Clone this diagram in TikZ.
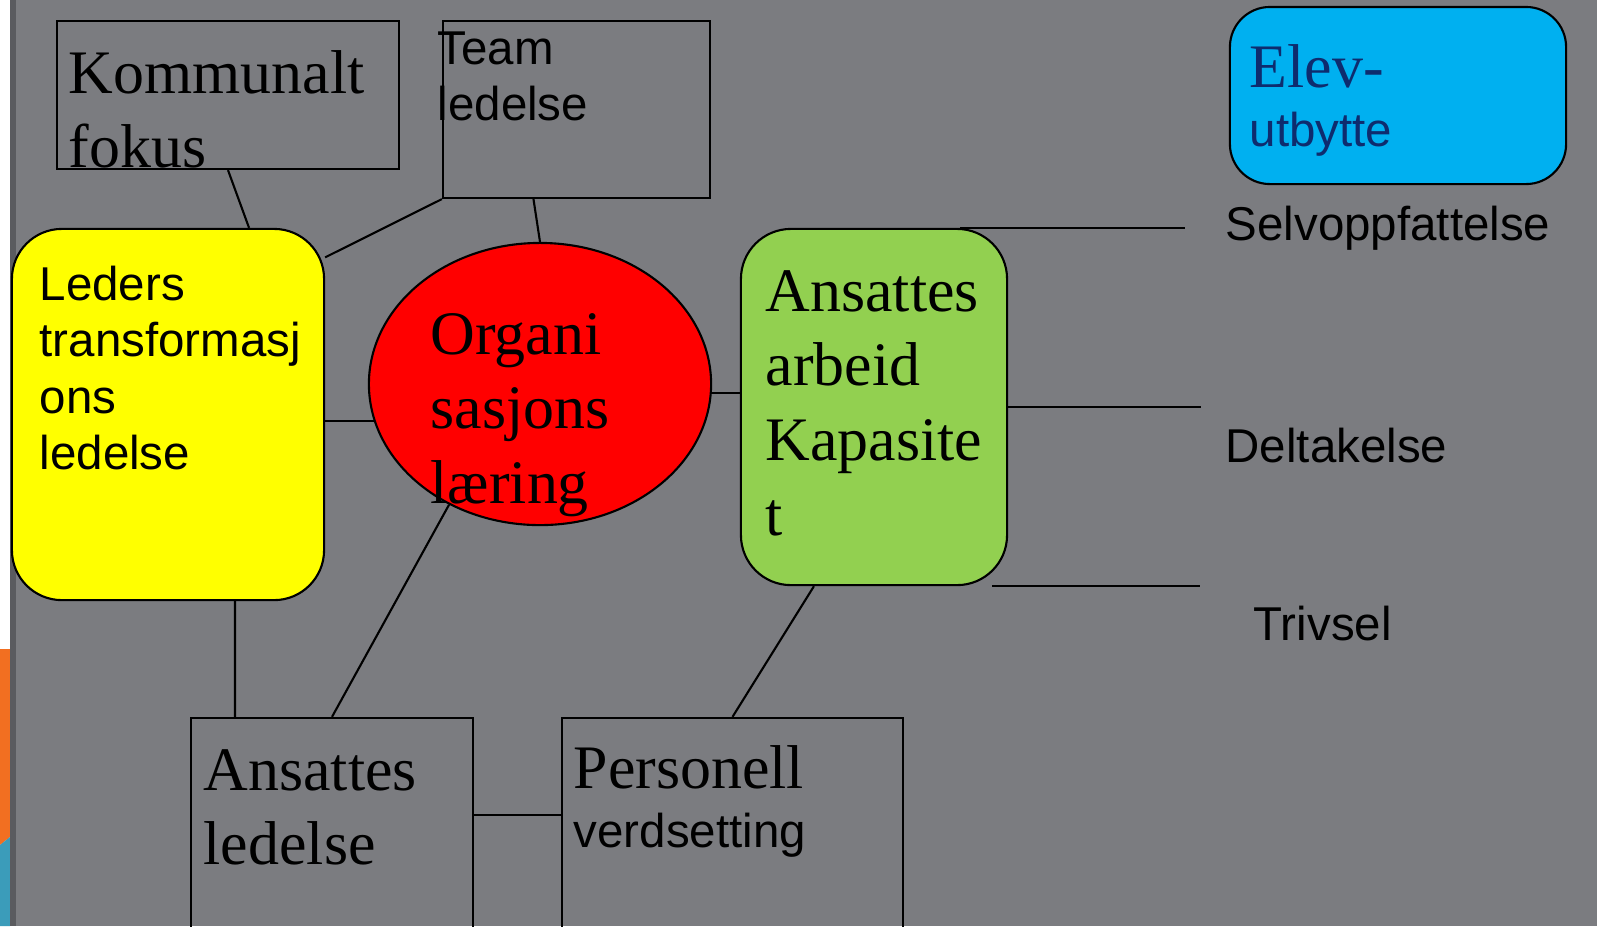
\documentclass[tikz,border=0pt]{standalone}
\usepackage{fontspec}
\setmainfont{Liberation Serif}
\setsansfont{Liberation Sans}
\usetikzlibrary{shapes.geometric}
\definecolor{bggray}{RGB}{123,124,128}
\definecolor{darkstrip}{RGB}{90,91,95}
\definecolor{sideorange}{HTML}{F26F21}
\definecolor{sideteal}{HTML}{3B9CBA}
\definecolor{boxyellow}{HTML}{FFFF00}
\definecolor{boxred}{HTML}{FF0000}
\definecolor{boxgreen}{HTML}{92D050}
\definecolor{boxblue}{HTML}{00B0F0}
\definecolor{navytext}{HTML}{0E2C6E}
\begin{document}
\begin{tikzpicture}[x=0.01cm,y=-0.01cm]
        \tikzstyle{every node}=[inner sep=0pt, text=black]
        \tikzstyle{box}=[rectangle, draw=black, line width=0.6pt]
        \tikzstyle{roundbox}=[box, rounded corners=0.5cm]
        \tikzstyle{bigtext}=[anchor=base west, font=\fontsize{17.6}{21.3}\selectfont]
        \tikzstyle{sanstext}=[anchor=base west, font=\sffamily\fontsize{13.5}{16.1}\selectfont]
        \tikzstyle{edge}=[black, line width=0.6pt]

        \useasboundingbox (0,0) rectangle (1597,926);
        \clip (0,0) rectangle (1597,926);
        \fill[white] (0,0) rectangle (10,926);
        \fill[sideorange] (0,649) -- (10,649) -- (10,837) -- (0,845) -- cycle;
        \fill[sideteal] (0,845) -- (10,837) -- (10,926) -- (0,926) -- cycle;
        \fill[darkstrip] (10,0) rectangle (16,926);
        \fill[bggray] (16,0) rectangle (1597,926);

        \node[box, minimum width=3.42cm, minimum height=1.48cm] (kom) at (228,95) {};
        \node[box, minimum width=2.67cm, minimum height=1.77cm] (team) at (576.5,109.5) {};
        \node[roundbox, fill=boxyellow, minimum width=3.12cm, minimum height=3.71cm] (lead) at (168,414.5) {};
        \node[ellipse, draw=black, line width=0.6pt, fill=boxred, minimum width=3.42cm, minimum height=2.82cm] (org) at (540,384) {};
        \node[roundbox, fill=boxgreen, minimum width=2.66cm, minimum height=3.56cm] (arb) at (874,407) {};
        \node[roundbox, rounded corners=0.4cm, fill=boxblue, minimum width=3.36cm, minimum height=1.77cm] (elev) at (1398,95.5) {};
        \node[box, minimum width=2.82cm, minimum height=2.84cm] (ansl) at (332,860) {};
        \node[box, minimum width=3.41cm, minimum height=2.84cm] (pers) at (732.5,860) {};

        \node[bigtext] (kom-t) at (68,93) {\begin{tabular}[t]{@{}l@{}} Kommunalt \\ fokus \end{tabular}};
        \node[sanstext] (team-t) at (437,64) {\begin{tabular}[t]{@{}l@{}} Team \\ ledelse \end{tabular}};
        \node[sanstext] (lead-t) at (39,300) {\begin{tabular}[t]{@{}l@{}} Leders \\ transformasj \\ ons \\ ledelse \end{tabular}};
        \node[bigtext] (org-t) at (430,354) {\begin{tabular}[t]{@{}l@{}} Organi \\ sasjons \\ læring \end{tabular}};
        \node[bigtext] (arb-t) at (765,311) {\begin{tabular}[t]{@{}l@{}} Ansattes \\ arbeid \\ Kapasite \\ t \end{tabular}};
        \node[bigtext, text=navytext, font=\fontsize{17.6}{16.8}\selectfont] (elev-t) at (1249,87) {\begin{tabular}[t]{@{}l@{}} Elev- \\ {\sffamily\fontsize{13.5}{16.1}\selectfont utbytte} \end{tabular}};
        \node[bigtext] (ansl-t) at (203,790) {\begin{tabular}[t]{@{}l@{}} Ansattes \\ ledelse \end{tabular}};
        \node[bigtext, font=\fontsize{17.6}{17}\selectfont] (pers-t) at (573,788) {\begin{tabular}[t]{@{}l@{}} Personell \\ {\sffamily\fontsize{13.5}{16.1}\selectfont verdsetting} \end{tabular}};
        \node[sanstext] (selv) at (1225,240) {Selvoppfattelse};
        \node[sanstext] (delt) at (1225,462) {Deltakelse};
        \node[sanstext] (triv) at (1253,640) {Trivsel};

        \path ([xshift=0.86cm]arb.north) ++(225,0) coordinate (selv-end);
        \path (arb.east) ++(193,0) coordinate (delt-end);
        \path ([xshift=1.18cm]arb.south) ++(208,0) coordinate (triv-end);

        \draw[edge] (kom.south) -- ([xshift=0.81cm]lead.north);
        \draw[edge] (team.south west) -- (lead.45);
        \draw[edge] ([xshift=-0.43cm]team.south) -- (org.north);
        \draw[edge] ([yshift=-0.065cm]lead.east) -- ([yshift=-0.065cm]lead.east -| org.193);
        \draw[edge] (org.-3) -- (org.-3 -| arb.west);
        \draw[edge] (org.233) -- (ansl.north);
        \draw[edge] ([xshift=0.67cm]lead.south) -- ([xshift=-0.97cm]ansl.north);
        \draw[edge] ([yshift=0.45cm]ansl.east) -- ([yshift=0.45cm]pers.west);
        \draw[edge] ([xshift=-0.6cm]arb.south) -- (pers.north);
        \draw[edge] ([xshift=0.86cm]arb.north) -- (selv-end);
        \draw[edge] (arb.east) -- (delt-end);
        \draw[edge] ([xshift=1.18cm]arb.south) -- (triv-end);
\end{tikzpicture}
\end{document}
